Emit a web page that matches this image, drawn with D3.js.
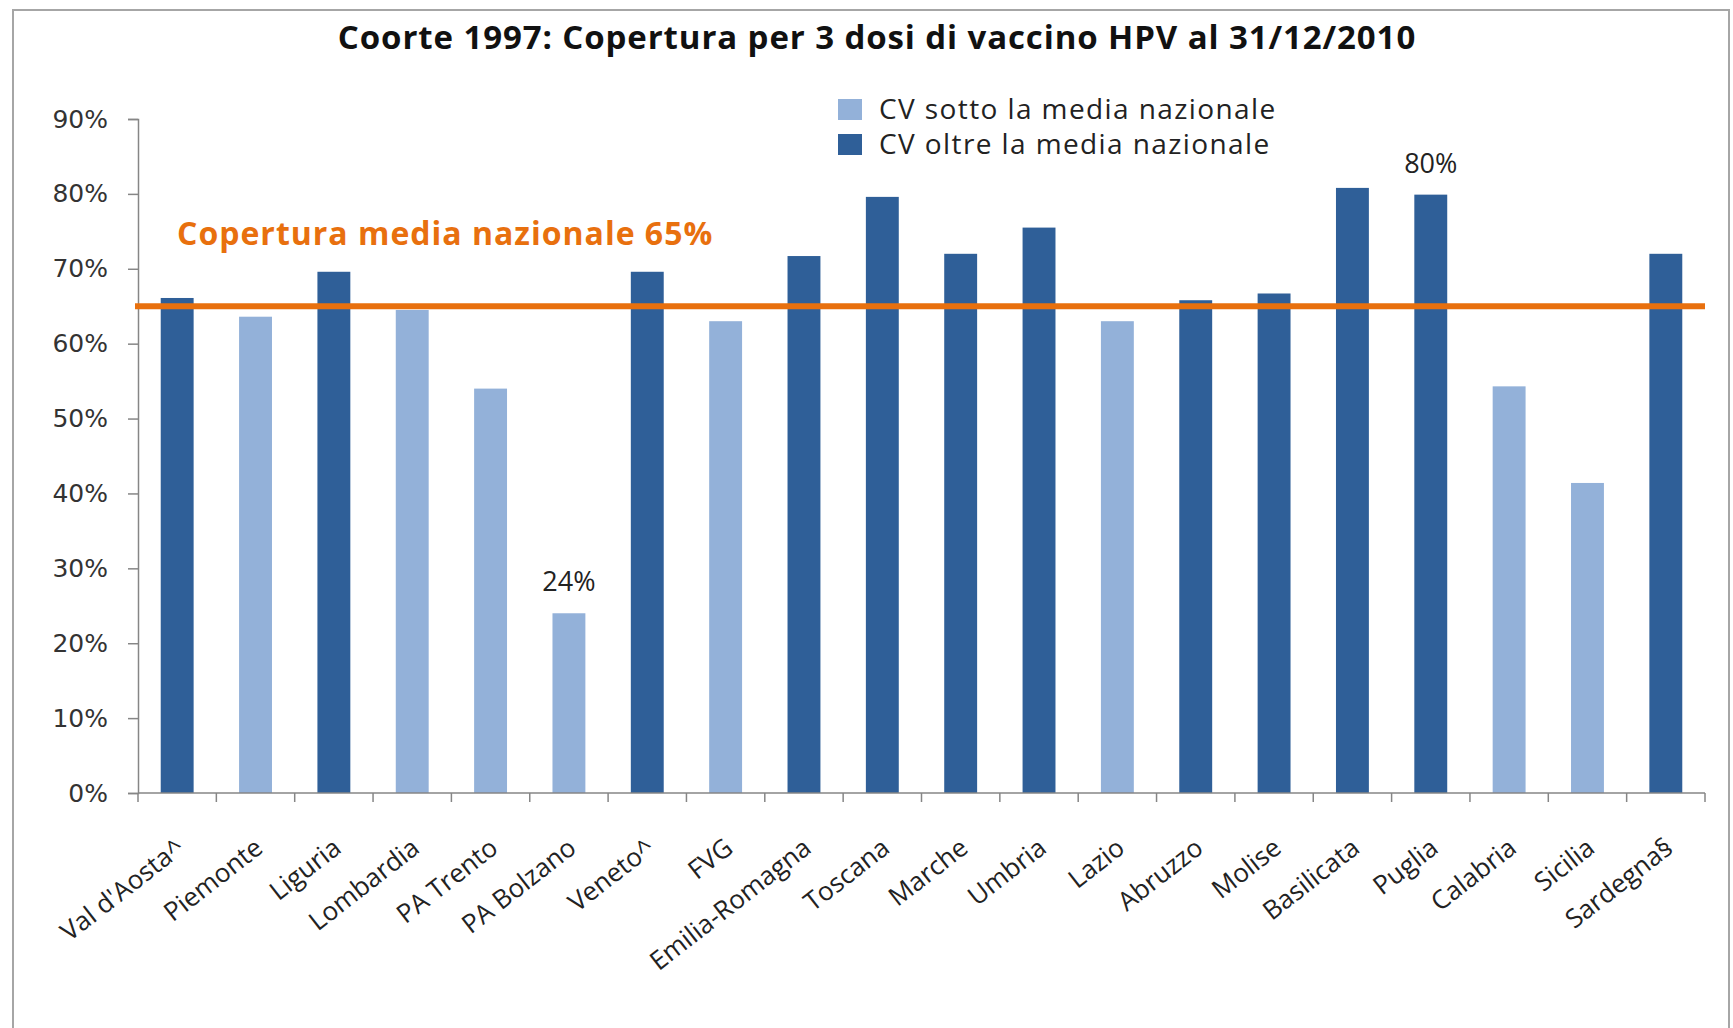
<!DOCTYPE html>
<html>
<head>
<meta charset="utf-8">
<script src="https://cdn.jsdelivr.net/npm/d3@7"></script>
<style>
  body { margin: 0; background: #fff; }
  svg { display: block; }
</style>
</head>
<body>
<svg id="chart" width="1733" height="1028"></svg>
<script>
// data
var regions = ["Val d'Aosta^", "Piemonte", "Liguria", "Lombardia", "PA Trento", "PA Bolzano",
  "Veneto^", "FVG", "Emilia-Romagna", "Toscana", "Marche", "Umbria", "Lazio", "Abruzzo",
  "Molise", "Basilicata", "Puglia", "Calabria", "Sicilia", "Sardegna§"];
var coverage = [66.1, 63.6, 69.6, 64.5, 54.0, 24.0, 69.6, 63.0, 71.7, 79.6,
  72.0, 75.5, 63.0, 65.8, 66.7, 80.8, 79.9, 54.3, 41.4, 72.0];
var nationalMean = 65;
var yTicks = [0, 10, 20, 30, 40, 50, 60, 70, 80, 90];
var legendLabels = ["CV sotto la media nazionale", "CV oltre la media nazionale"];
var callouts = [{ region: "PA Bolzano", label: "24%" }, { region: "Puglia", label: "80%" }];

(function() {
  var light = "#93b1d9", dark = "#2f5f98", orange = "#e8700e";
  var font = "'Open Sans', sans-serif";

  var svg = d3.select("#chart");

  // outer frame
  svg.append("rect")
    .attr("x", 13).attr("y", 10)
    .attr("width", 1716).attr("height", 1030)
    .attr("fill", "none").attr("stroke", "#a6a6a6").attr("stroke-width", 2);

  var left = 138, right = 1705, plotTop = 119, bottom = 793;

  var x = d3.scaleBand()
    .domain(regions)
    .range([left, right])
    .paddingInner(0.58)
    .paddingOuter(0.29);

  var y = d3.scaleLinear()
    .domain([0, 90])
    .range([bottom, plotTop]);

  // title
  svg.append("text")
    .attr("x", 877).attr("y", 49)
    .attr("text-anchor", "middle")
    .attr("font-family", font).attr("font-weight", "bold")
    .attr("font-size", 33).attr("letter-spacing", 0.9).attr("fill", "#111")
    .text("Coorte 1997: Copertura per 3 dosi di vaccino HPV al 31/12/2010");

  // bars
  svg.append("g")
    .selectAll("rect")
    .data(regions)
    .enter().append("rect")
      .attr("x", function(d) { return x(d); })
      .attr("y", function(d, i) { return y(coverage[i]); })
      .attr("width", x.bandwidth())
      .attr("height", function(d, i) { return y(0) - y(coverage[i]); })
      .attr("fill", function(d, i) { return coverage[i] >= nationalMean ? dark : light; });

  // y axis
  var yAxis = svg.append("g")
    .attr("transform", "translate(" + left + ",0)")
    .call(d3.axisLeft(y).tickValues(yTicks).tickSize(10).tickPadding(20)
      .tickFormat(function(d) { return d + "%"; }));
  yAxis.selectAll("path, line").attr("stroke", "#868686").attr("stroke-width", 1.5);
  yAxis.selectAll("text")
    .attr("font-family", "'DejaVu Sans', sans-serif").attr("font-size", 25).attr("fill", "#333");

  // x axis: ticks sit between the categories
  var step = x.step();
  var xAxis = svg.append("g");
  xAxis.append("line")
    .attr("x1", left).attr("x2", right)
    .attr("y1", bottom).attr("y2", bottom)
    .attr("stroke", "#868686").attr("stroke-width", 1.5);
  xAxis.selectAll(".tick")
    .data(d3.range(regions.length + 1))
    .enter().append("line")
      .attr("x1", function(i) { return left + i * step; })
      .attr("x2", function(i) { return left + i * step; })
      .attr("y1", bottom).attr("y2", bottom + 9)
      .attr("stroke", "#868686").attr("stroke-width", 1.5);
  xAxis.selectAll("text")
    .data(regions)
    .enter().append("text")
      .attr("transform", function(d) {
        return "translate(" + (x(d) + x.bandwidth() / 2 + 9) + "," + 851 + ") rotate(-38)";
      })
      .attr("text-anchor", "end")
      .attr("font-family", font).attr("font-size", 26).attr("fill", "#222")
      .text(function(d) { return d; });

  // national mean line
  svg.append("line")
    .attr("x1", left - 3).attr("x2", right)
    .attr("y1", y(nationalMean)).attr("y2", y(nationalMean))
    .attr("stroke", orange).attr("stroke-width", 6);

  svg.append("text")
    .attr("x", 177).attr("y", 245)
    .attr("font-family", font).attr("font-weight", "bold")
    .attr("font-size", 32).attr("letter-spacing", 1.0).attr("fill", orange)
    .text("Copertura media nazionale " + nationalMean + "%");

  // callouts
  svg.append("g")
    .selectAll("text")
    .data(callouts)
    .enter().append("text")
      .attr("x", function(d) { return x(d.region) + x.bandwidth() / 2; })
      .attr("y", function(d) { return y(coverage[regions.indexOf(d.region)]) - 22; })
      .attr("text-anchor", "middle")
      .attr("font-family", font).attr("font-size", 27).attr("fill", "#222")
      .text(function(d) { return d.label; });

  // legend
  var legend = svg.append("g").attr("transform", "translate(838,99)");
  var items = legend.selectAll("g")
    .data(legendLabels)
    .enter().append("g")
      .attr("transform", function(d, i) { return "translate(0," + (i * 35) + ")"; });
  items.append("rect")
    .attr("width", 24).attr("height", 21)
    .attr("fill", function(d, i) { return i == 0 ? light : dark; });
  items.append("text")
    .attr("x", 41).attr("y", 20)
    .attr("font-family", font).attr("font-size", 28).attr("letter-spacing", 1.4).attr("fill", "#222")
    .text(function(d) { return d; });
})();
</script>
</body>
</html>
